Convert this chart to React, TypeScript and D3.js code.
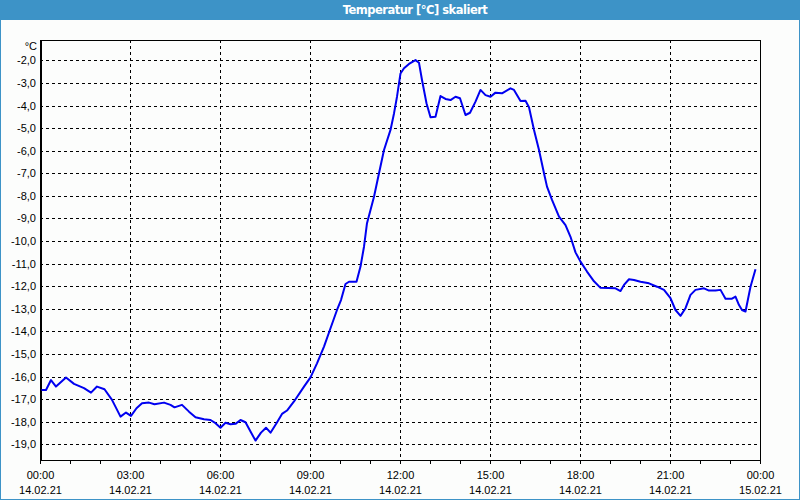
import React from "react";
import * as d3 from "d3";

const title = "Temperatur [°C] skaliert";
const unitLabel = "°C";

// minutes since 14.02.21 00:00
const minutes = [
  2, 11, 21, 31, 51, 67, 87, 101, 113, 128, 143, 160, 171, 181, 192, 203, 217, 228, 247, 260,
  268, 283, 297, 310, 327, 340, 350, 360, 370, 380, 390, 400, 410, 420, 430, 441, 451, 460, 472, 483,
  493, 507, 527, 540, 553, 567, 580, 593, 601, 610, 617, 632, 640, 647, 653, 660, 667, 677, 687, 700,
  707, 713, 720, 727, 737, 750, 757, 763, 772, 780, 790, 800, 810, 820, 830, 839, 850, 859, 870, 880,
  890, 900, 910, 923, 940, 947, 960, 970, 977, 987, 997, 1007, 1013, 1023, 1037, 1050, 1060, 1070, 1080, 1093,
  1107, 1120, 1150, 1160, 1167, 1177, 1187, 1200, 1217, 1233, 1247, 1260, 1270, 1280, 1290, 1300, 1310, 1327, 1337, 1350,
  1360, 1370, 1383, 1390, 1397, 1403, 1410, 1420, 1430,
];

const temps = [
  -16.59, -16.59, -16.15, -16.44, -16.04, -16.32, -16.51, -16.71, -16.44, -16.56, -17.03, -17.77, -17.59, -17.74, -17.4, -17.18, -17.15, -17.22, -17.15, -17.25,
  -17.36, -17.25, -17.55, -17.8, -17.89, -17.92, -18.06, -18.26, -18.04, -18.11, -18.09, -17.92, -18.02, -18.43, -18.83, -18.48, -18.26, -18.48, -18.06, -17.65,
  -17.5, -17.1, -16.44, -16.03, -15.41, -14.67, -13.86, -13.05, -12.61, -11.9, -11.8, -11.8, -11.13, -10.25, -9.21, -8.62, -8.04, -7.0, -5.97, -5.08,
  -4.35, -3.61, -2.58, -2.35, -2.16, -1.99, -2.11, -2.87, -3.9, -4.52, -4.5, -3.58, -3.71, -3.76, -3.61, -3.68, -4.42, -4.32, -3.83, -3.31,
  -3.54, -3.61, -3.43, -3.46, -3.24, -3.31, -3.8, -3.79, -4.08, -5.08, -5.97, -7.0, -7.59, -8.18, -8.92, -9.29, -9.81, -10.5, -10.91, -11.35,
  -11.78, -12.07, -12.09, -12.21, -11.94, -11.69, -11.72, -11.8, -11.87, -12.02, -12.16, -12.53, -13.05, -13.31, -12.97, -12.38, -12.16, -12.09, -12.19, -12.19,
  -12.16, -12.55, -12.55, -12.46, -12.83, -13.05, -13.12, -12.02, -11.25,
];

const yTicks = [-2, -3, -4, -5, -6, -7, -8, -9, -10, -11, -12, -13, -14, -15, -16, -17, -18, -19];
const xMajorMinutes = [0, 180, 360, 540, 720, 900, 1080, 1260, 1440];
const xTimeLabels = ["00:00", "03:00", "06:00", "09:00", "12:00", "15:00", "18:00", "21:00", "00:00"];
const xDateLabels = ["14.02.21", "14.02.21", "14.02.21", "14.02.21", "14.02.21", "14.02.21", "14.02.21", "14.02.21", "15.02.21"];
const xMinorMinutes = d3.range(0, 1441, 60);

const W = 800;
const H = 500;
const L = 40;
const R = 760;
const T = 40;
const B = 460;

export default function App() {
  const x = d3.scaleLinear().domain([0, 1440]).range([L + 0.5, R + 0.5]);
  const y = d3.scaleLinear().domain([-19.69, -1.1]).range([B, T]);
  const data = minutes.map((m, i) => [m, temps[i]] as [number, number]);
  const line = d3
    .line<[number, number]>()
    .x((d) => x(d[0]))
    .y((d) => y(d[1]));
  const font = "'Liberation Sans', Arial, sans-serif";

  return (
    <svg
      width={W}
      height={H}
      style={{ position: "absolute", left: 0, top: 0, display: "block" }}
      fontFamily={font}
    >
      <rect x={0} y={0} width={W} height={H} fill="#3d93c7" />
      <rect x={1} y={20} width={W - 2} height={H - 21} fill="#fcfdfc" />
      <text
        x={415}
        y={14}
        textAnchor="middle"
        fill="#ffffff"
        fontWeight="bold"
        fontSize={11.5}
        fontFamily="'DejaVu Sans', Verdana, sans-serif"
        letterSpacing={-0.5}
      >
        {title}
      </text>

      {/* grid */}
      {yTicks.map((t) => (
        <line
          key={"gy" + t}
          x1={L}
          x2={R}
          y1={Math.round(y(t)) + 0.5}
          y2={Math.round(y(t)) + 0.5}
          stroke="#000"
          strokeWidth={1}
          strokeDasharray="3,3"
        />
      ))}
      {xMajorMinutes.slice(1, -1).map((m) => (
        <line
          key={"gx" + m}
          x1={x(m)}
          x2={x(m)}
          y1={T}
          y2={B}
          stroke="#000"
          strokeWidth={1}
          strokeDasharray="3,3"
        />
      ))}

      {/* frame */}
      <line x1={L + 1} x2={L + 1} y1={T} y2={B + 1} stroke="#000" strokeWidth={2} />
      <line x1={L} x2={R + 1} y1={T + 0.5} y2={T + 0.5} stroke="#000" strokeWidth={1} />
      <line x1={R + 0.5} x2={R + 0.5} y1={T} y2={B + 1} stroke="#000" strokeWidth={1} />
      <line x1={L} x2={R + 1} y1={B + 0.5} y2={B + 0.5} stroke="#000" strokeWidth={1} />

      {/* ticks below axis */}
      {xMinorMinutes.map((m) => (
        <line key={"tk" + m} x1={x(m)} x2={x(m)} y1={B} y2={B + 4} stroke="#000" strokeWidth={1} />
      ))}

      {/* y labels */}
      {yTicks.map((t) => (
        <text key={"yl" + t} x={36} y={y(t) + 4} textAnchor="end" fontSize={11} fill="#000">
          {t.toFixed(1).replace(".", ",")}
        </text>
      ))}
      <text x={37} y={50} textAnchor="end" fontSize={11} fill="#000">
        {unitLabel}
      </text>

      {/* x labels */}
      {xMajorMinutes.map((m, i) => (
        <g key={"xl" + i}>
          <text x={x(m)} y={479} textAnchor="middle" fontSize={11} fill="#000">
            {xTimeLabels[i]}
          </text>
          <text x={x(m)} y={494} textAnchor="middle" fontSize={11} fill="#000">
            {xDateLabels[i]}
          </text>
        </g>
      ))}

      {/* series */}
      <path d={line(data) || ""} fill="none" stroke="#0000f0" strokeWidth={2} strokeLinejoin="round" />
    </svg>
  );
}
